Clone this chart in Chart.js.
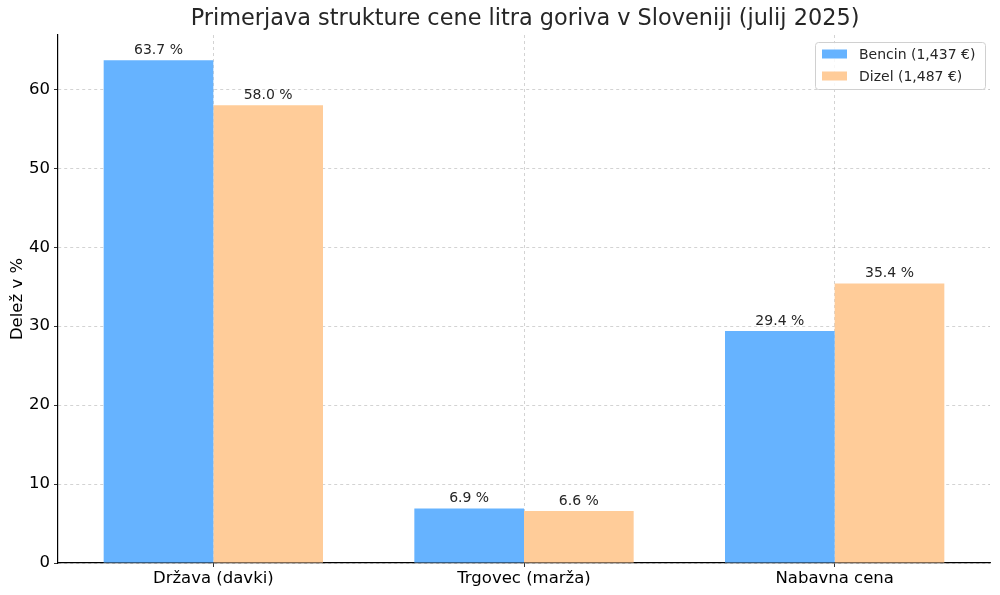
<!DOCTYPE html>
<html>
<head>
<meta charset="utf-8">
<script src="https://cdn.jsdelivr.net/npm/chart.js@4.4.0/dist/chart.umd.min.js"></script>
<style>
  body { margin: 0; background: #fff; }
  #wrap { width: 1000px; height: 595px; }
</style>
</head>
<body>
<div id="wrap"><canvas id="chart" width="1000" height="595"></canvas></div>
<script>
// podatki
const kategorije = ["Država (davki)", "Trgovec (marža)", "Nabavna cena"];
const bencin = [63.7, 6.9, 29.4];
const dizel = [58.0, 6.6, 35.4];
const imenaSerij = ["Bencin (1,437 €)", "Dizel (1,487 €)"];
const barve = ["#66b3ff", "#ffcc99"];
const naslov = "Primerjava strukture cene litra goriva v Sloveniji (julij 2025)";
const osY = "Delež v %";

const FONT = "'DejaVu Sans', sans-serif";

// napisi nad stolpci + naslov + legenda
const dodatki = {
  id: "dodatki",
  afterDatasetsDraw(chart) {
    const ctx = chart.ctx;
    ctx.save();
    ctx.font = "14px " + FONT;
    ctx.fillStyle = "#262626";
    ctx.textAlign = "center";
    ctx.textBaseline = "bottom";
    chart.data.datasets.forEach((ds, i) => {
      chart.getDatasetMeta(i).data.forEach((bar, j) => {
        ctx.fillText(ds.data[j].toFixed(1) + " %", bar.x, bar.y - 3);
      });
    });
    ctx.restore();
  },
  afterDraw(chart) {
    const ctx = chart.ctx;
    ctx.save();
    // naslov
    ctx.font = "22.4px " + FONT;
    ctx.fillStyle = "#262626";
    ctx.textAlign = "center";
    ctx.textBaseline = "middle";
    ctx.fillText(naslov, 525, 19);

    // legenda
    const lx = 815, ly = 42, lw = 170, lh = 47;
    ctx.fillStyle = "rgba(255,255,255,0.85)";
    ctx.strokeStyle = "#d0d0d0";
    ctx.lineWidth = 1;
    ctx.beginPath();
    ctx.roundRect(lx + 0.5, ly + 0.5, lw, lh, 3);
    ctx.fill();
    ctx.stroke();
    ctx.font = "14px " + FONT;
    ctx.textAlign = "left";
    imenaSerij.forEach((ime, i) => {
      const y = ly + 12 + i * 22;
      ctx.fillStyle = barve[i];
      ctx.fillRect(lx + 7, y - 4.5, 25, 9);
      ctx.fillStyle = "#262626";
      ctx.fillText(ime, lx + 44, y + 1);
    });
    ctx.restore();
  }
};

const mreza = {
  color: "rgba(176,176,176,0.7)",
  lineWidth: 0.8,
  tickColor: "#000",
  tickLength: 4,
  tickBorderDash: []
};

new Chart(document.getElementById("chart").getContext("2d"), {
  type: "bar",
  data: {
    labels: kategorije,
    datasets: [
      { label: imenaSerij[0], data: bencin, backgroundColor: barve[0] },
      { label: imenaSerij[1], data: dizel, backgroundColor: barve[1] }
    ]
  },
  options: {
    responsive: false,
    animation: false,
    layout: { padding: { top: 35, right: 10, left: 0, bottom: 0 } },
    datasets: { bar: { categoryPercentage: 0.706, barPercentage: 1.0 } },
    plugins: {
      legend: { display: false },
      title: { display: false },
      tooltip: { enabled: false }
    },
    scales: {
      x: {
        offset: true,
        z: 1,
        grid: Object.assign({}, mreza, { offset: false }),
        border: { color: "#000", width: 1.2, dash: [3, 3] },
        ticks: { color: "#000", font: { family: FONT, size: 16.5 }, padding: 2 },
        afterFit(s) { s.height = 32; }
      },
      y: {
        min: 0,
        max: 66.885,
        z: 1,
        grid: mreza,
        border: { color: "#000", width: 1.2, dash: [3, 3] },
        ticks: {
          stepSize: 10,
          color: "#000",
          font: { family: FONT, size: 16.5 },
          padding: 4
        },
        afterBuildTicks(s) {
          s.ticks = s.ticks.filter(t => t.value % 10 === 0);
        },
        title: {
          display: true,
          text: osY,
          color: "#000",
          font: { family: FONT, size: 16.5 },
          padding: { top: 8, bottom: 2 }
        },
        afterFit(s) { s.width = 58; }
      }
    }
  },
  plugins: [dodatki]
});
</script>
</body>
</html>
